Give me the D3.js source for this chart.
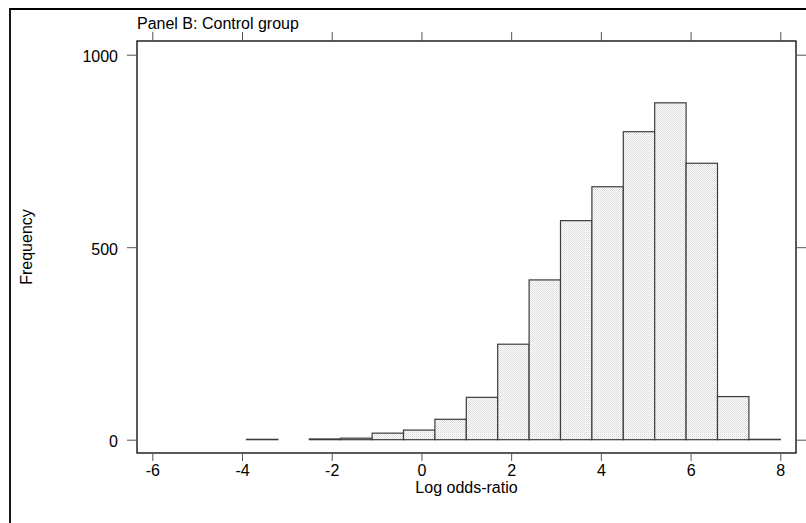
<!DOCTYPE html>
<html>
<head>
<meta charset="utf-8">
<script src="https://cdn.jsdelivr.net/npm/d3@7"></script>
<style>
  body { margin: 0; background: #fff; }
  svg { display: block; font-family: "Liberation Sans", Arial, sans-serif; }
</style>
</head>
<body>
<svg width="806" height="523"></svg>
<script>
// Histogram bins (log odds-ratio) and their frequencies.
const binEdges = [-3.9, -3.2, -2.5, -1.8, -1.1, -0.4, 0.3, 1.0, 1.7, 2.4, 3.1, 3.8, 4.5, 5.2, 5.9, 6.6, 7.3, 8.0];
const counts   = [1, 0, 2, 4, 17, 25, 53, 110, 248, 415, 569, 657, 800, 875, 718, 112, 1];
const xTicks = [-6, -4, -2, 0, 2, 4, 6, 8];
const yTicks = [0, 500, 1000];

const title = "Panel B: Control group";
const xLabel = "Log odds-ratio";
const yLabel = "Frequency";

let svg = d3.select("svg");

// Plot frame in pixels.
let frame = { left: 137, top: 41, right: 796, bottom: 453 };

let x = d3.scaleLinear().domain([-6, 8]).range([152.3, 780.3]);
let y = d3.scaleLinear().domain([0, 1000]).range([439.7, 54.7]);

// Light dotted grey fill like the original.
let defs = svg.append("defs");
let pat = defs.append("pattern")
    .attr("id", "dots")
    .attr("patternUnits", "userSpaceOnUse")
    .attr("width", 2).attr("height", 2);
pat.append("rect").attr("width", 2).attr("height", 2).attr("fill", "#ffffff");
pat.append("rect").attr("x", 0).attr("y", 0).attr("width", 1).attr("height", 1).attr("fill", "#d6d6d6");
pat.append("rect").attr("x", 1).attr("y", 1).attr("width", 1).attr("height", 1).attr("fill", "#e2e2e2");

// Outer border (only top and left visible in the picture).
svg.append("path")
    .attr("d", "M10,530 L10,9 L812,9")
    .attr("fill", "none")
    .attr("stroke", "#000")
    .attr("stroke-width", 1.8);

// Bars.
let bins = counts.map((c, i) => ({ x0: binEdges[i], x1: binEdges[i + 1], n: c }))
    .filter(d => d.n > 0);

svg.append("g").selectAll("rect")
    .data(bins)
    .join("rect")
    .attr("x", d => x(d.x0))
    .attr("y", d => y(d.n))
    .attr("width", d => x(d.x1) - x(d.x0))
    .attr("height", d => y(0) - y(d.n))
    .attr("fill", "url(#dots)")
    .attr("stroke", "#3c3c3c")
    .attr("stroke-width", 1.2);

// Plot frame.
svg.append("rect")
    .attr("x", frame.left).attr("y", frame.top)
    .attr("width", frame.right - frame.left)
    .attr("height", frame.bottom - frame.top)
    .attr("fill", "none")
    .attr("stroke", "#000")
    .attr("stroke-width", 1.3);

// Axes: labels on bottom and left, mirrored ticks on top and right.
let styleAxis = function (g) {
    g.select(".domain").remove();
    g.selectAll(".tick line").attr("stroke", "#555").attr("stroke-width", 1);
    g.selectAll(".tick text")
        .attr("font-size", 16)
        .attr("font-family", "'Liberation Sans', Arial, sans-serif")
        .attr("fill", "#000");
};

svg.append("g")
    .attr("transform", `translate(0,${frame.bottom})`)
    .call(d3.axisBottom(x).tickValues(xTicks).tickSize(8).tickPadding(4).tickFormat(d3.format("d")))
    .call(styleAxis)
    .selectAll(".tick text").text(d => d < 0 ? "-" + Math.abs(d) : d);

svg.append("g")
    .attr("transform", `translate(0,${frame.top})`)
    .call(d3.axisTop(x).tickValues(xTicks).tickSize(9).tickFormat(""))
    .call(styleAxis);

svg.append("g")
    .attr("transform", `translate(${frame.left},0)`)
    .call(d3.axisLeft(y).tickValues(yTicks).tickSize(10).tickPadding(9).tickFormat(d3.format("d")))
    .call(styleAxis)
    .selectAll(".tick text").attr("dy", "0.45em");

svg.append("g")
    .attr("transform", `translate(${frame.right},0)`)
    .call(d3.axisRight(y).tickValues(yTicks).tickSize(10).tickFormat(""))
    .call(styleAxis);

// Texts.
svg.append("text")
    .attr("x", 137).attr("y", 28.5)
    .attr("font-size", 16)
    .text(title);

svg.append("text")
    .attr("x", (frame.left + frame.right) / 2).attr("y", 492.5)
    .attr("text-anchor", "middle")
    .attr("font-size", 16)
    .text(xLabel);

svg.append("text")
    .attr("transform", `translate(31.5,${(frame.top + frame.bottom) / 2}) rotate(-90)`)
    .attr("text-anchor", "middle")
    .attr("font-size", 16)
    .text(yLabel);
</script>
</body>
</html>
